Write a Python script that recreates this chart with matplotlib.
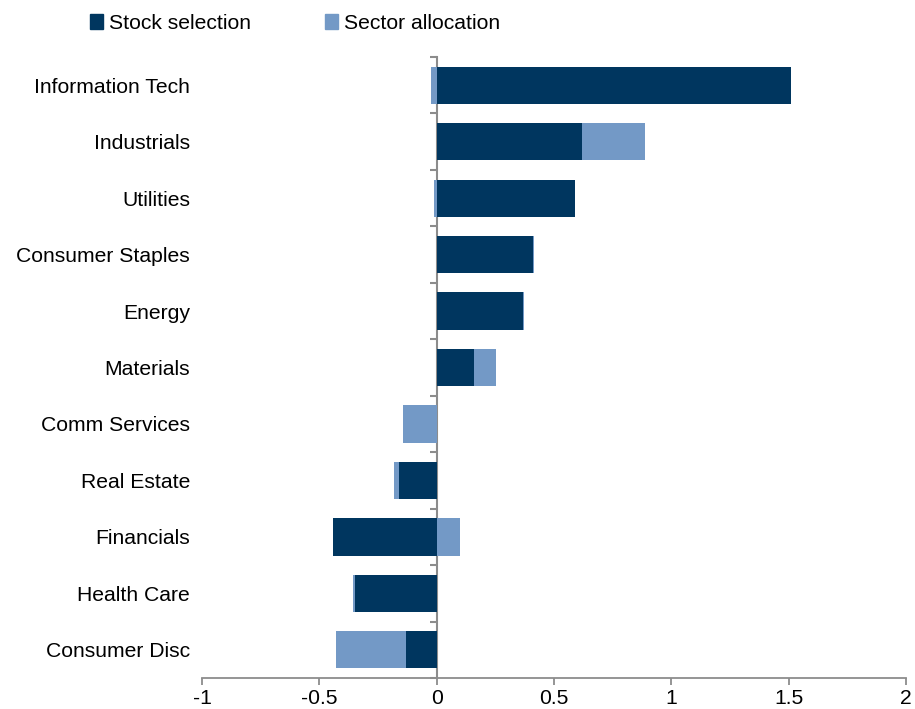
import matplotlib.pyplot as plt
import numpy as np
from matplotlib.patches import Patch

# ---------------------------------------------------------------------------
# DATA
# ---------------------------------------------------------------------------
sectors = ["Information Tech", "Industrials", "Utilities", "Consumer Staples",
           "Energy", "Materials", "Comm Services", "Real Estate",
           "Financials", "Health Care", "Consumer Disc"]
stock_selection = [1.51, 0.62, 0.59, 0.41, 0.37, 0.16, 0.0, -0.16, -0.44, -0.35, -0.13]
sector_allocation = [-0.025, 0.27, -0.01, 0.005, 0.003, 0.095, -0.145, -0.02, 0.10, -0.007, -0.30]
xticks = [-1, -0.5, 0, 0.5, 1, 1.5, 2]
xticklabels = ["-1", "-0.5", "0", "0.5", "1", "1.5", "2"]

dark = "#00365F"
light = "#7399C6"
grey = "#8C8C8C"

plt.rcParams['font.family'] = ['Liberation Sans', 'DejaVu Sans']

# ---------------------------------------------------------------------------
# PLOT
# ---------------------------------------------------------------------------
fig = plt.figure(figsize=(9.15, 7.09), dpi=100)
ax = fig.add_axes([0.2208, 0.0437, 0.7692, 0.8759])

y = np.arange(len(sectors))
stock = np.array(stock_selection)
alloc = np.array(sector_allocation)

# stock selection sits next to zero, allocation stacked on the same side or from zero
ax.barh(y, stock, height=0.66, color=dark, linewidth=0)
alloc_left = np.where(np.sign(alloc) == np.sign(stock), stock, 0)
ax.barh(y, alloc, left=alloc_left, height=0.66, color=light, linewidth=0)

ax.set_xlim(-1, 2)
ax.set_ylim(len(sectors) - 0.5, -0.5)

for s in ["top", "right", "left"]:
    ax.spines[s].set_visible(False)
ax.spines["bottom"].set_color(grey)
ax.spines["bottom"].set_linewidth(1.3)

ax.set_xticks(xticks)
ax.set_xticklabels(xticklabels, fontsize=15.2)
ax.tick_params(axis="x", direction="out", length=5, width=1.3, color=grey, pad=3)

ax.set_yticks(y)
ax.set_yticklabels(sectors, fontsize=15.2)
ax.tick_params(axis="y", length=0, pad=8.5)

# vertical axis at zero with category boundary ticks
sec = ax.secondary_yaxis(1 / 3)
sec.set_yticks(np.arange(-0.5, len(sectors), 1.0))
sec.set_yticklabels([])
sec.spines["left"].set_color(grey)
sec.spines["left"].set_linewidth(1.5)
sec.tick_params(axis="y", direction="out", length=5, width=1.5, color=grey)

handles = [Patch(color=dark, label="Stock selection"),
           Patch(color=light, label="Sector allocation")]
fig.legend(handles=handles, loc="center", bbox_to_anchor=(0.322, 0.967), ncol=2,
           frameon=False, fontsize=15.2, handlelength=0.65, handleheight=0.65,
           handletextpad=0.25, columnspacing=3.5)

fig.savefig("out.png", dpi=100)
